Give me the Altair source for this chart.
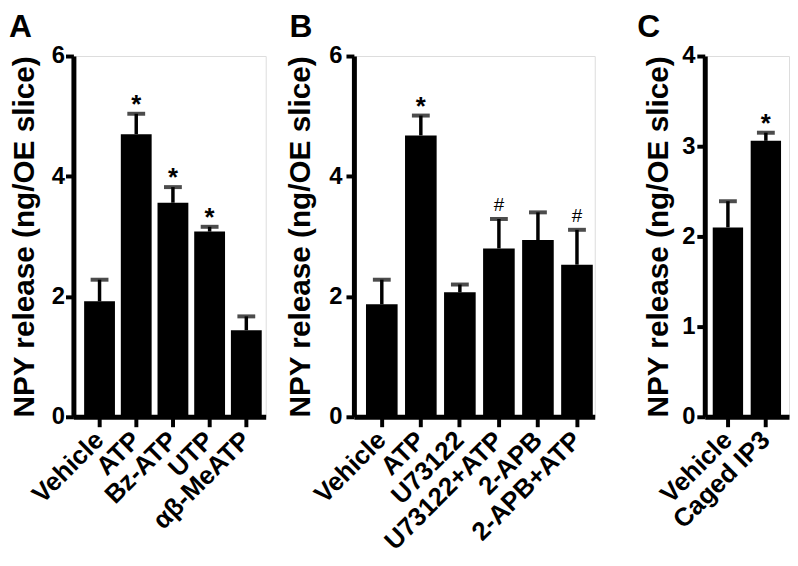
import altair as alt
import pandas as pd

# ---- data ----
a_labels = ["Vehicle", "ATP", "Bz-ATP", "UTP", "αβ-MeATP"]
a_means = [1.92, 4.70, 3.56, 3.08, 1.44]
a_errs = [0.36, 0.34, 0.26, 0.08, 0.23]
a_marks = ["", "*", "*", "*", ""]

b_labels = ["Vehicle", "ATP", "U73122", "U73122+ATP", "2-APB", "2-APB+ATP"]
b_means = [1.87, 4.68, 2.07, 2.80, 2.94, 2.53]
b_errs = [0.41, 0.33, 0.13, 0.49, 0.46, 0.58]
b_marks = ["", "*", "", "#", "", "#"]

c_labels = ["Vehicle", "Caged IP3"]
c_means = [2.10, 3.06]
c_errs = [0.29, 0.09]
c_marks = ["", "*"]

FONT = "Liberation Sans"
YTITLE = "NPY release (ng/OE slice)"
H = 364


def panel(letter, labels, means, errs, marks, ymax, ystep, width,
          pad_inner, pad_outer, align, title_dx, ytitle_x, ylab_pad):
    df = pd.DataFrame({
        "cat": labels,
        "mean": means,
        "top": [m + e for m, e in zip(means, errs)],
        "mark": marks,
    })
    xscale = alt.Scale(paddingInner=pad_inner, paddingOuter=pad_outer, align=align)
    xaxis = alt.Axis(
        labelAngle=-45, labelAlign="right", labelBaseline="middle",
        labelFont=FONT, labelFontWeight="bold", labelFontSize=26,
        labelColor="black", labelPadding=9, domainColor="black",
        domainWidth=5, tickColor="black", tickWidth=4, tickSize=10,
        labelOverlap=False,
    )
    yaxis = alt.Axis(
        values=list(range(0, ymax + 1, ystep)), format="d",
        labelFont=FONT, labelFontWeight="bold", labelFontSize=24,
        labelColor="black", labelPadding=ylab_pad, domainColor="black",
        domainWidth=5, tickColor="black", tickWidth=4, tickSize=8,
        grid=False, titleFont=FONT, titleFontWeight="bold",
        titleFontSize=30, titleColor="black", titleAngle=270,
        titleAlign="center", titleBaseline="middle",
        titleX=ytitle_x, titleY=H / 2,
    )
    x = alt.X("cat:N", sort=labels, title=None, scale=xscale, axis=xaxis)
    xs = alt.X("cat:N", sort=labels)
    yscale = alt.Scale(domain=[0, ymax], nice=False, zero=True)
    base = alt.Chart(df)
    bars = base.mark_bar(color="black").encode(
        x=x, y=alt.Y("mean:Q", title=YTITLE, scale=yscale, axis=yaxis))
    stem = base.mark_rule(color="black", strokeWidth=3.5).encode(
        x=xs, y="mean:Q", y2="top:Q")
    cap = base.mark_tick(color="black", thickness=4, size=18).encode(
        x=xs, y="top:Q")
    star = base.transform_filter(alt.datum.mark == "*").mark_text(
        font=FONT, fontWeight="bold", fontSize=26, baseline="alphabetic",
        dy=-1, color="black").encode(x=xs, y="top:Q", text="mark:N")
    hsh = base.transform_filter(alt.datum.mark == "#").mark_text(
        font=FONT, fontWeight="normal", fontSize=19, baseline="alphabetic",
        dy=-8, color="black").encode(x=xs, y="top:Q", text="mark:N")
    return alt.layer(bars, stem, cap, star, hsh).properties(
        width=width, height=H,
        title=alt.TitleParams(letter, anchor="start", frame="group",
                              font=FONT, fontWeight="bold", fontSize=32,
                              color="black", dx=title_dx, offset=0),
    )


pa = panel("A", a_labels, a_means, a_errs, a_marks, 6, 2, 194,
           0.16, 0.2, 0.73, -65, -49, 1)
pb = panel("B", b_labels, b_means, b_errs, b_marks, 6, 2, 243,
           0.19, 0.18, 0.86, -65, -54, 4)
pc = panel("C", c_labels, c_means, c_errs, c_marks, 4, 1, 85,
           0.2, 0.21, 0.5, -68, -47, 2)

chart = alt.hconcat(
    alt.hconcat(pa, pb, spacing=18), pc, spacing=41
).properties(
    padding={"left": 0, "top": 0, "right": 0, "bottom": 0}
).configure_view(strokeWidth=0).configure(background="white")

chart.save("out.html", embed_options={"renderer": "svg", "actions": False})
